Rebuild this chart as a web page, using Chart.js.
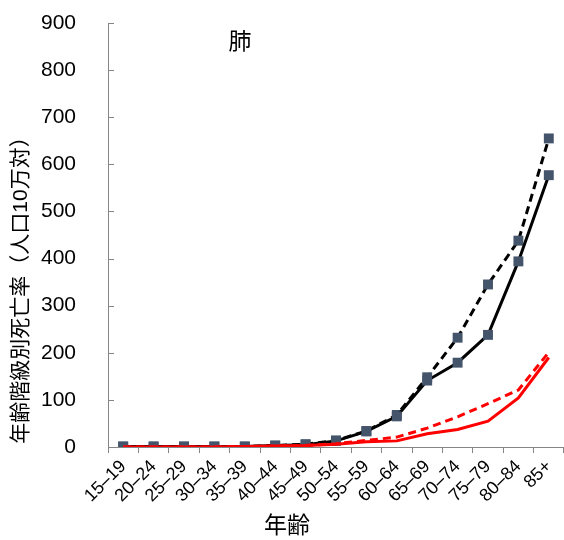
<!DOCTYPE html>
<html>
<head>
<meta charset="utf-8">
<script src="https://cdn.jsdelivr.net/npm/chart.js@4.4.1/dist/chart.umd.min.js"></script>
<style>
  html, body { margin: 0; padding: 0; background: #fff; }
  #wrap { width: 564px; height: 540px; position: relative; }
</style>
</head>
<body>
<div id="wrap"><canvas id="lungChart"></canvas></div>
<script>
// 年齢区分
const ageGroups = ['15–19', '20–24', '25–29', '30–34', '35–39', '40–44', '45–49',
  '50–54', '55–59', '60–64', '65–69', '70–74', '75–79', '80–84', '85+'];
// 黒（破線・マーカー付き）
const blackDashed = [1, 1, 1, 1, 1, 3, 6, 14, 34, 68, 148, 232, 345, 438, 655];
// 黒（実線・マーカー付き）
const blackSolid = [1, 1, 1, 1, 1, 3, 5, 13, 33, 65, 141, 179, 238, 394, 577];
// 赤（破線）
const redDashed = [0, 0, 0, 0, 1, 2, 3, 7, 14, 21, 40, 64, 92, 121, 201];
// 赤（実線）
const redSolid = [0, 0, 0, 0, 1, 2, 3, 6, 11, 13, 28, 37, 55, 104, 190];
const yTicks = [0, 100, 200, 300, 400, 500, 600, 700, 800, 900];

const FONT = "'Liberation Sans', 'Noto Sans CJK JP', Arial, sans-serif";
const AXIS_GRAY = '#868686';

// タイトル・軸タイトル・内向きの目盛りを描く
const decorations = {
  id: 'decorations',
  afterDraw(chart) {
    const ctx = chart.ctx;
    const y = chart.scales.y;
    ctx.save();
    // y軸の内向き目盛り
    ctx.strokeStyle = AXIS_GRAY;
    ctx.lineWidth = 1;
    yTicks.forEach(v => {
      const py = Math.round(y.getPixelForValue(v)) + 0.5;
      ctx.beginPath();
      ctx.moveTo(y.right, py);
      ctx.lineTo(y.right + 6, py);
      ctx.stroke();
    });
    ctx.fillStyle = '#000';
    ctx.textAlign = 'center';
    ctx.textBaseline = 'middle';
    ctx.font = '23px ' + FONT;
    ctx.fillText('肺', 240, 43);
    ctx.fillText('年齢', 287, 527);
    ctx.translate(21, 285);
    ctx.rotate(-Math.PI / 2);
    ctx.font = '21px ' + FONT;
    ctx.fillText('年齢階級別死亡率（人口10万対）', 0, 0);
    ctx.restore();
  }
};

document.addEventListener('DOMContentLoaded', function() {
  const ctx = document.getElementById('lungChart');
  new Chart(ctx, {
    type: 'line',
    data: {
      labels: ageGroups,
      datasets: [
        {
          data: redSolid,
          borderColor: '#ff0000',
          borderWidth: 3,
          pointRadius: 0,
          order: 1
        },
        {
          data: redDashed,
          borderColor: '#ff0000',
          borderWidth: 3,
          borderDash: [8, 5],
          pointRadius: 0,
          order: 2
        },
        {
          data: blackSolid,
          borderColor: '#000000',
          borderWidth: 3,
          pointStyle: 'rect',
          pointRadius: 7,
          pointBackgroundColor: '#44546a',
          pointBorderColor: '#44546a',
          pointBorderWidth: 0,
          order: 3
        },
        {
          data: blackDashed,
          borderColor: '#000000',
          borderWidth: 3,
          borderDash: [8, 5],
          pointStyle: 'rect',
          pointRadius: 7,
          pointBackgroundColor: '#44546a',
          pointBorderColor: '#44546a',
          pointBorderWidth: 0,
          order: 4
        }
      ]
    },
    options: {
      responsive: true,
      maintainAspectRatio: false,
      animation: false,
      layout: { autoPadding: false, padding: { top: 23, right: 0, left: 0, bottom: 0 } },
      plugins: {
        legend: { display: false },
        tooltip: { enabled: false }
      },
      scales: {
        x: {
          offset: true,
          afterFit(scale) {
            scale.height = 93;
            scale.paddingLeft = 0;
            scale.paddingRight = 0;
          },
          border: { color: AXIS_GRAY, width: 1 },
          grid: {
            offset: true,
            drawOnChartArea: false,
            drawTicks: true,
            tickLength: 6,
            color: AXIS_GRAY
          },
          ticks: {
            color: '#000',
            minRotation: 45,
            maxRotation: 45,
            autoSkip: false,
            padding: 3,
            font: { family: FONT, size: 18 }
          }
        },
        y: {
          min: 0,
          max: 900,
          afterFit(scale) {
            scale.width = 108;
            scale.paddingTop = 0;
            scale.paddingBottom = 0;
          },
          border: { color: AXIS_GRAY, width: 1 },
          grid: { drawOnChartArea: false, drawTicks: false },
          ticks: {
            stepSize: 100,
            color: '#000',
            padding: 32,
            font: { family: FONT, size: 21 }
          }
        }
      }
    },
    plugins: [decorations]
  });
});
</script>
</body>
</html>
